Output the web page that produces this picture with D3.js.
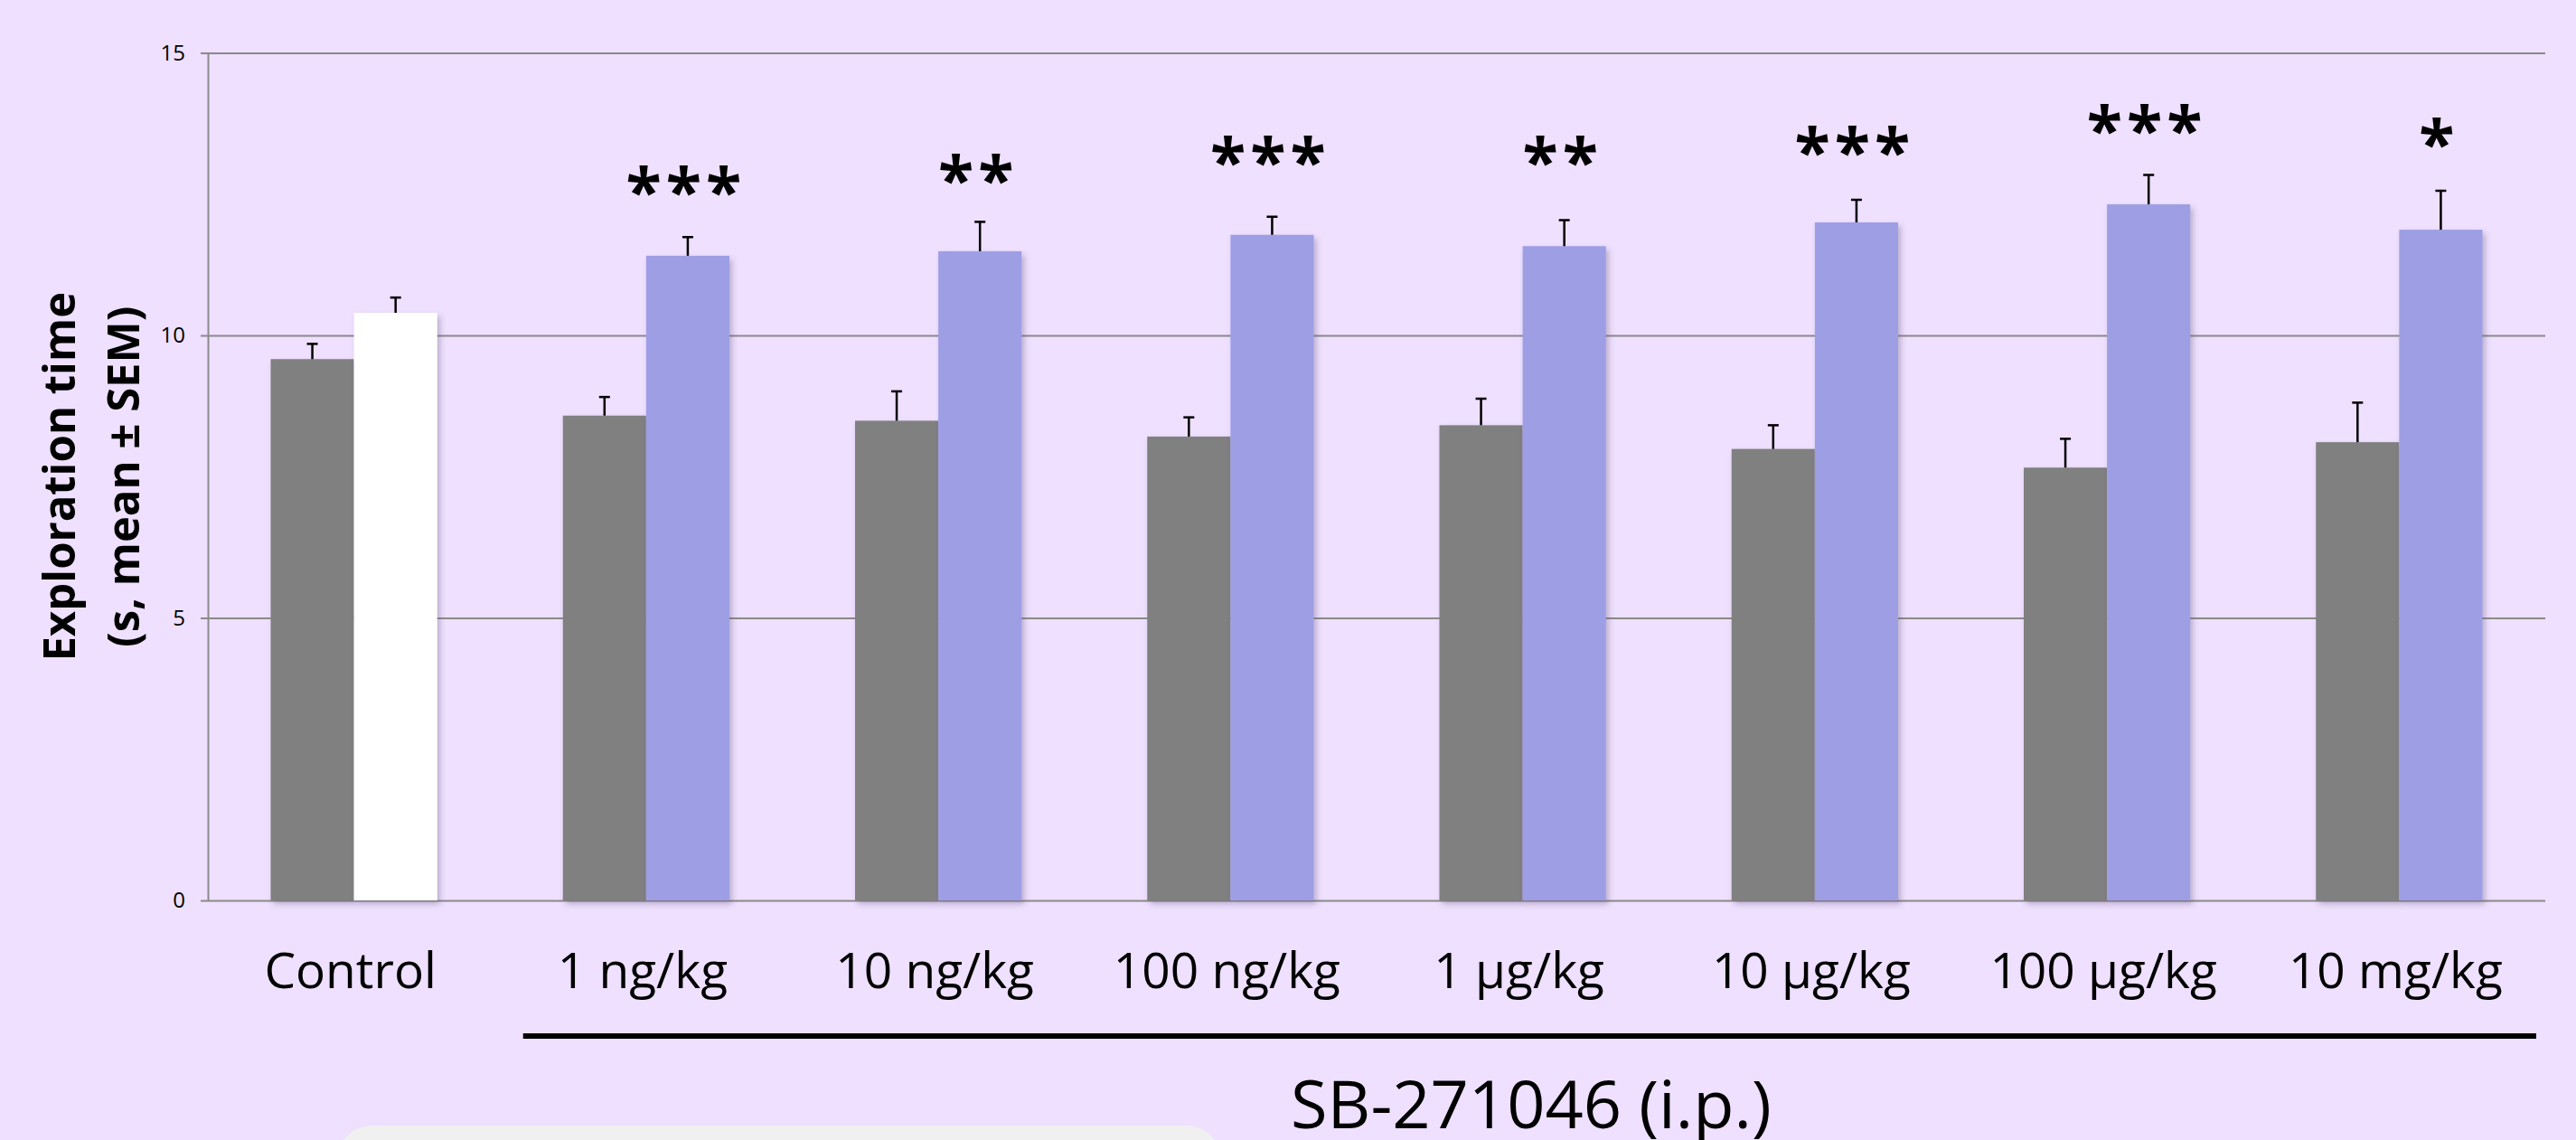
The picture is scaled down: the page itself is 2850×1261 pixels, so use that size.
<!DOCTYPE html>
<html>
<head>
<meta charset="utf-8">
<script src="https://cdn.jsdelivr.net/npm/d3@7"></script>
<style>
  body { margin: 0; background: #EEE0FE; }
  svg { display: block; font-family: "Open Sans", sans-serif; }
</style>
</head>
<body>
<svg id="chart" width="2850" height="1261"></svg>
<script>
// values
const categories = ["Control", "1 ng/kg", "10 ng/kg", "100 ng/kg", "1 µg/kg", "10 µg/kg", "100 µg/kg", "10 mg/kg"];
const series = ["first", "second"];
const firstMeans = [9.58, 8.58, 8.49, 8.21, 8.41, 7.99, 7.66, 8.11];
const firstSem = [0.27, 0.33, 0.52, 0.34, 0.47, 0.42, 0.51, 0.70];
const secondMeans = [10.40, 11.41, 11.49, 11.78, 11.58, 12.00, 12.32, 11.87];
const secondSem = [0.27, 0.33, 0.52, 0.32, 0.46, 0.40, 0.52, 0.69];
const stars = ["", "***", "**", "***", "**", "***", "***", "*"];
const starLevels = [0, 12.72, 12.93, 13.26, 13.25, 13.43, 13.82, 13.57];
const yTicks = [0, 5, 10, 15];

let svg = d3.select("svg#chart");

// plot frame
let plotLeft = 230, plotRight = 2816, plotTop = 58.5, plotBottom = 996;

let y = d3.scaleLinear().domain([0, 15]).range([plotBottom, plotTop]);
let x0 = d3.scaleBand().domain(categories).range([plotLeft, plotRight])
  .paddingInner(0.43).paddingOuter(0.215);
let x1 = d3.scaleBand().domain(series).range([0, x0.bandwidth()]);

// build rows for bars
let rows = [];
categories.forEach((c, i) => {
  rows.push({cat: c, i: i, s: "first", v: firstMeans[i], e: firstSem[i]});
  rows.push({cat: c, i: i, s: "second", v: secondMeans[i], e: secondSem[i]});
});

let defs = svg.append("defs");
defs.append("filter").attr("id", "shadow")
  .attr("x", "-10%").attr("y", "-10%").attr("width", "130%").attr("height", "130%")
  .append("feDropShadow")
  .attr("dx", 3).attr("dy", 4).attr("stdDeviation", 3)
  .attr("flood-color", "#5a4a70").attr("flood-opacity", 0.35);

// gridlines
let grid = svg.append("g").attr("transform", "translate(" + plotLeft + ",0)")
  .call(d3.axisLeft(y).tickValues(yTicks).tickSize(-(plotRight - plotLeft)).tickFormat(""));
grid.select(".domain").remove();
grid.selectAll("line").attr("stroke", "#8a8a8a").attr("stroke-width", 2);

// bars
svg.append("g").selectAll("rect")
  .data(rows)
  .join("rect")
  .attr("x", d => x0(d.cat) + x1(d.s))
  .attr("width", x1.bandwidth())
  .attr("y", d => y(d.v))
  .attr("height", d => y(0) - y(d.v))
  .attr("fill", d => d.s === "first" ? "#808080" : (d.i === 0 ? "#FFFFFF" : "#9E9EE5"))
  .attr("filter", "url(#shadow)");

// error bars (upper half only)
let err = svg.append("g").attr("stroke", "#000").attr("stroke-width", 2.5);
rows.forEach(d => {
  let cx = x0(d.cat) + x1(d.s) + x1.bandwidth() / 2;
  err.append("line").attr("x1", cx).attr("x2", cx)
    .attr("y1", y(d.v)).attr("y2", y(d.v + d.e));
  err.append("line").attr("x1", cx - 6).attr("x2", cx + 6)
    .attr("y1", y(d.v + d.e)).attr("y2", y(d.v + d.e));
});

// y axis
let yAxis = svg.append("g").attr("transform", "translate(" + plotLeft + ",0)")
  .call(d3.axisLeft(y).tickValues(yTicks).tickSize(8).tickSizeOuter(0).tickPadding(17));
yAxis.select(".domain").attr("stroke", "#8a8a8a").attr("stroke-width", 2);
yAxis.selectAll("line").attr("stroke", "#8a8a8a").attr("stroke-width", 2);
yAxis.selectAll("text").attr("font-family", "Open Sans").attr("font-size", 24).attr("fill", "#000");

// significance stars
let starSize = 72;
svg.append("g").selectAll("text")
  .data(categories.filter((c, i) => stars[i] !== ""))
  .join("text")
  .attr("x", c => x0(c) + x1("second") + x1.bandwidth() / 2 - 2)
  .attr("y", c => y(starLevels[categories.indexOf(c)]) + 0.52 * starSize)
  .attr("text-anchor", "middle")
  .attr("font-size", starSize)
  .attr("font-weight", "bold")
  .attr("letter-spacing", 5)
  .attr("fill", "#000")
  .text(c => stars[categories.indexOf(c)]);

// category labels
let xAxis = svg.append("g").attr("transform", "translate(0," + plotBottom + ")")
  .call(d3.axisBottom(x0).tickSize(0));
xAxis.select(".domain").remove();
xAxis.selectAll("text")
  .attr("y", 97).attr("dy", 0).attr("dx", -4)
  .attr("font-family", "Open Sans").attr("font-size", 55).attr("fill", "#000");

// y title
let yTitle = svg.append("text")
  .attr("transform", "translate(83," + ((plotTop + plotBottom) / 2) + ") rotate(-90)")
  .attr("text-anchor", "middle")
  .attr("font-size", 49)
  .attr("font-weight", "bold")
  .attr("fill", "#000");
yTitle.append("tspan").attr("x", 0).attr("y", 0).text("Exploration time");
yTitle.append("tspan").attr("x", 0).attr("y", 71).text("(s, mean ± SEM)");

// drug bracket and label
svg.append("line")
  .attr("x1", x0(categories[1]) - 44).attr("x2", plotRight - 10)
  .attr("y1", 1146).attr("y2", 1146)
  .attr("stroke", "#000").attr("stroke-width", 6);
svg.append("text")
  .attr("x", 1428).attr("y", 1248)
  .attr("font-size", 74).attr("fill", "#000")
  .text("SB-271046 (i.p.)");

// light box at bottom edge
svg.append("rect")
  .attr("x", 372).attr("y", 1245).attr("width", 980).attr("height", 90)
  .attr("rx", 40).attr("fill", "#F0F0F0");
</script>
</body>
</html>
